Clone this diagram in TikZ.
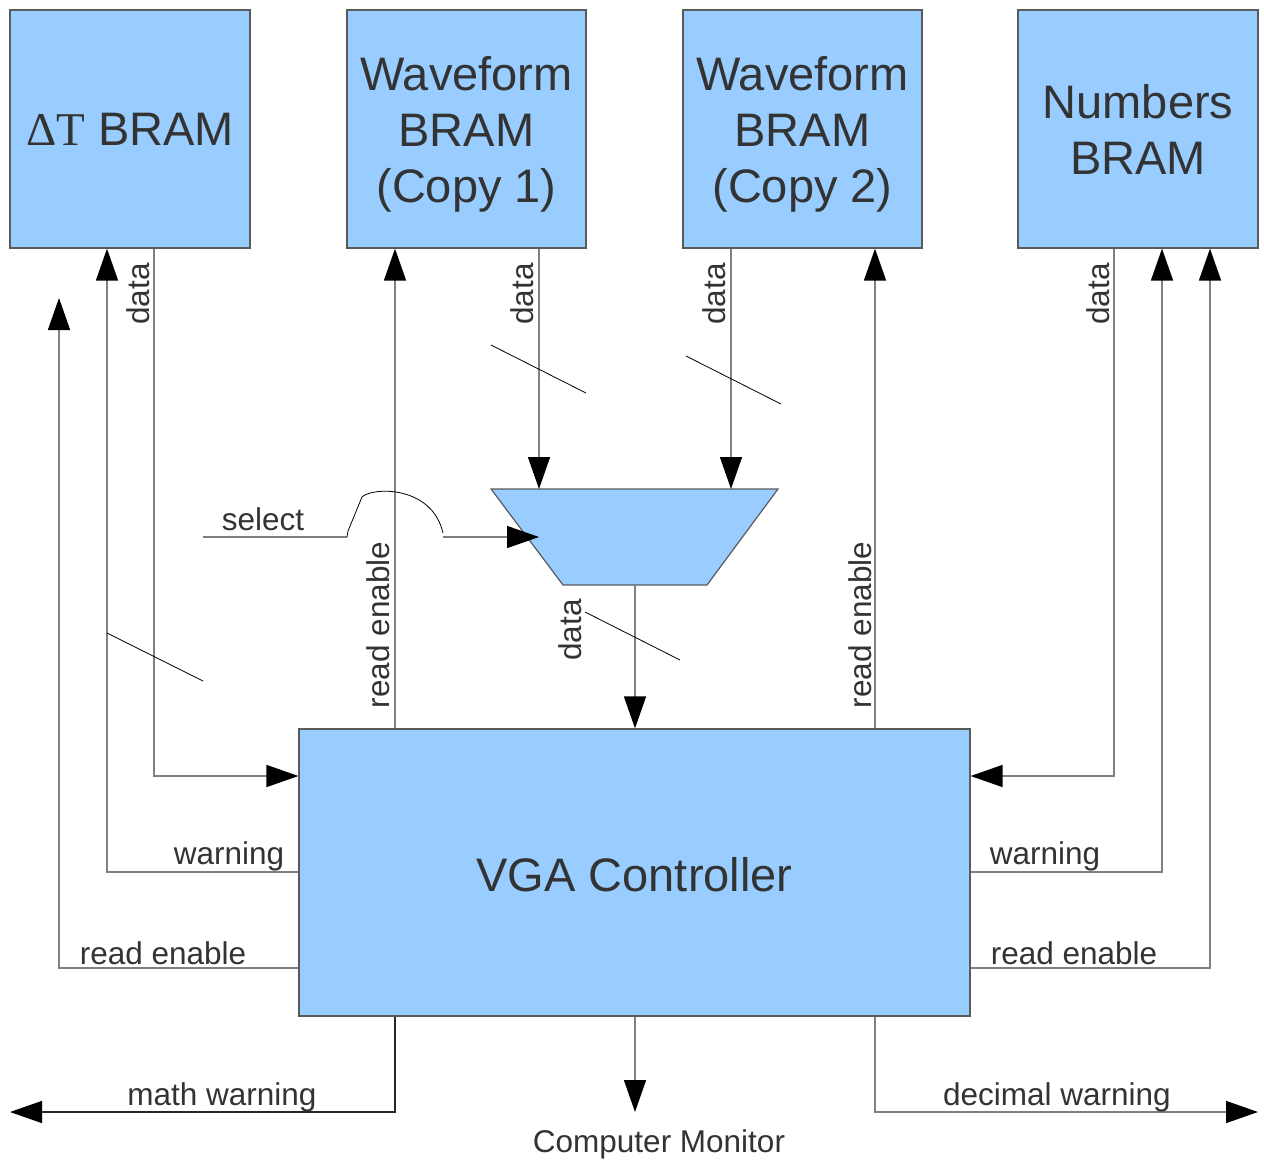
\documentclass[tikz,border=0pt]{standalone}
\usepackage{fontspec}
\setmainfont{Liberation Sans}
\newfontfamily\dtserif{Liberation Serif}
\usetikzlibrary{arrows.meta}
\definecolor{boxfill}{HTML}{99CCFF}
\definecolor{txt}{HTML}{333333}
\definecolor{wire}{HTML}{808080}
\definecolor{edge}{HTML}{5A5A5A}
\begin{document}
\begin{tikzpicture}[x=1pt,y=-1pt,
 blk/.style={draw=edge, line width=1.2pt, fill=boxfill, inner sep=0pt, text=txt, align=center, font=\fontsize{47}{56}\selectfont},
 btxt/.style={inner sep=0pt, text=txt, align=center, font=\fontsize{47}{56}\selectfont},
 wirel/.style={draw=wire, line width=1.5pt},
 arr/.style={wirel, -{Triangle[length=32pt,width=22pt,black]}},
 darr/.style={draw=black!85, line width=1.5pt, -{Triangle[length=32pt,width=22pt,black]}},
 lbl/.style={text=txt, font=\fontsize{31.5}{38}\selectfont, inner sep=0pt},
 rlbl/.style={lbl, rotate=90},
 slash/.style={draw=black, line width=0.8pt}]
\useasboundingbox (0,0) rectangle (1264,1162);

% blocks
\node[blk, minimum width=240pt, minimum height=238pt] (dt) at (130,129) {{\dtserif ΔT} BRAM};
\node[blk, minimum width=239pt, minimum height=238pt] (wf1) at (466.5,129) {};
\node[btxt] (wf1t) at (466.5,134) {Waveform\\BRAM\\(Copy 1)};
\node[blk, minimum width=239pt, minimum height=238pt] (wf2) at (802.5,129) {};
\node[btxt] (wf2t) at (802.5,134) {Waveform\\BRAM\\(Copy 2)};
\node[blk, minimum width=240pt, minimum height=238pt] (num) at (1138,129) {Numbers\\BRAM};
\node[blk, minimum width=671pt, minimum height=287pt] (vga) at (634.5,872.5) {};
\node[btxt] (vgat) at (634.5,875) {VGA Controller};

% mux
\coordinate (m1) at (491,489);
\coordinate (m2) at (778,489);
\coordinate (m3) at (707,585);
\coordinate (m4) at (563,585);
\draw[draw=edge, line width=1.2pt, fill=boxfill] (m1) -- (m2) -- (m3) -- (m4) -- cycle;
\coordinate (muxin1) at (539,489);
\coordinate (muxin2) at (731,489);
\coordinate (muxsel) at (539,537);
\coordinate (muxout) at (635,585);

% helper coordinates
\coordinate (a154) at (154,776);
\coordinate (a107) at (107,872);
\coordinate (a59) at (59,968);
\coordinate (a59t) at (59,298);
\coordinate (a395) at (395,729);
\coordinate (a875) at (875,729);
\coordinate (a1114) at (1114,776);
\coordinate (a1162) at (1162,872);
\coordinate (a1210) at (1210,968);
\coordinate (b395) at (395,1112);
\coordinate (b10) at (10,1112);
\coordinate (b635) at (635,1112);
\coordinate (b875) at (875,1112);
\coordinate (b1258) at (1258,1112);
\coordinate (s0) at (203,537);
\coordinate (s1) at (347,537);
\coordinate (s2) at (443,537);

% Delta T connections
\draw[arr] (dt.south -| a154) -- (a154) -- (vga.west |- a154);
\draw[arr] (vga.west |- a107) -- (a107) -- (dt.south -| a107);
\draw[arr] (vga.west |- a59) -- (a59) -- (a59t);
\draw[slash] (107,633) -- (203,681);

% Waveform copy 1
\draw[arr] (vga.north -| a395) -- (wf1.south -| a395);
\draw[arr] (wf1.south -| muxin1) -- (muxin1);
\draw[slash] (491,345) -- (586,393);

% Waveform copy 2
\draw[arr] (wf2.south -| muxin2) -- (muxin2);
\draw[arr] (vga.north -| a875) -- (wf2.south -| a875);
\draw[slash] (686,356) -- (781,404);

% Numbers
\draw[arr] (num.south -| a1114) -- (a1114) -- (vga.east |- a1114);
\draw[arr] (vga.east |- a1162) -- (a1162) -- (num.south -| a1162);
\draw[arr] (vga.east |- a1210) -- (a1210) -- (num.south -| a1210);

% select with hop
\draw[wirel] (s0) -- (s1);
\draw[slash] (s1) -- (348,531) -- (362,497) .. controls (372,487) and (432,485) .. (443,533);
\draw[arr] (s2) -- (muxsel);

% mux output
\draw[arr] (muxout) -- (vga.north -| muxout);
\draw[slash] (585,612) -- (680,660);

% bottom outputs
\draw[darr] (vga.south -| b395) -- (b395) -- (b10);
\draw[arr] (vga.south -| b635) -- (b635);
\draw[arr] (vga.south -| b875) -- (b875) -- (b1258);

% labels
\node[rlbl] (l1) at (138,294) {data};
\node[rlbl] (l2) at (522,294) {data};
\node[rlbl] (l3) at (714,294) {data};
\node[rlbl] (l4) at (1098,294) {data};
\node[rlbl] (l5) at (570,630) {data};
\node[rlbl] (l6) at (378,625) {read enable};
\node[rlbl] (l7) at (860,625) {read enable};
\node[lbl] (l8) at (263,519) {select};
\node[lbl] (l9) at (229,856) {warning};
\node[lbl] (l10) at (1045,856) {warning};
\node[lbl] (l11) at (163,953) {read enable};
\node[lbl] (l12) at (1074,953) {read enable};
\node[lbl] (l13) at (222,1097) {math warning};
\node[lbl] (l14) at (1057,1097) {decimal warning};
\node[lbl] (l15) at (659,1144) {Computer Monitor};
\end{tikzpicture}
\end{document}
